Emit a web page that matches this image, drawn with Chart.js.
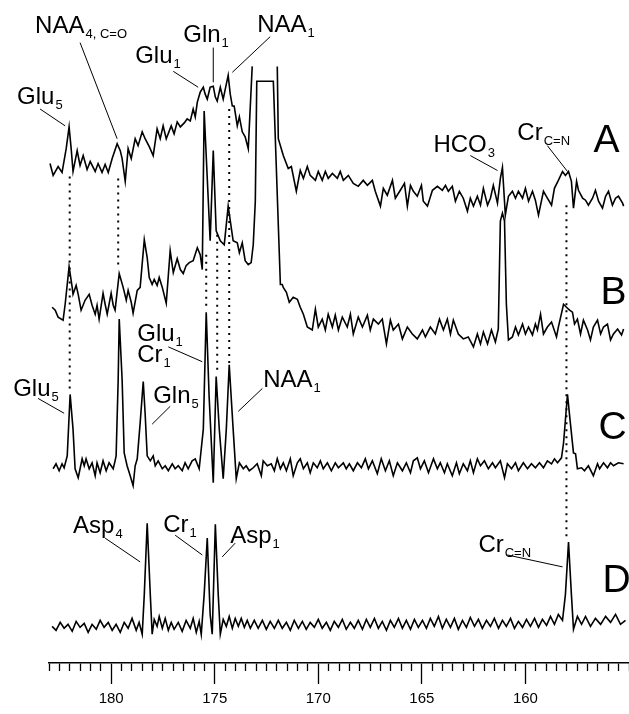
<!DOCTYPE html>
<html>
<head>
<meta charset="utf-8">
<script src="https://cdn.jsdelivr.net/npm/chart.js@4.4.1/dist/chart.umd.min.js"></script>
<style>
  html, body { margin: 0; padding: 0; background: #fff; }
  canvas { display: block; }
</style>
</head>
<body>
<canvas id="nmrChart" width="629" height="714"></canvas>
<script>
// [chemical shift (ppm), intensity above the trace baseline]
const traceA = [
  [182.95,25],[182.80,13],[182.56,22],[182.37,16],[182.17,40],[182.03,62],[181.93,40],[181.84,17],[181.64,38],[181.50,23],
  [181.35,33],[181.16,19],[181.01,27],[180.77,17],[180.63,25],[180.44,16],[180.29,24],[180.14,16],[179.95,30],[179.71,45],
  [179.56,38],[179.47,30],[179.32,7],[179.18,40],[179.03,30],[178.84,50],[178.70,43],[178.50,57],[178.36,50],[178.16,42],
  [177.97,33],[177.78,60],[177.63,50],[177.49,63],[177.34,50],[177.10,63],[176.96,55],[176.81,67],[176.66,62],[176.47,66],
  [176.33,70],[176.18,68],[176.04,80],[175.94,72],[175.84,87],[175.70,97],[175.55,102],[175.46,95],[175.36,90],[175.22,102],
  [175.07,103],[174.97,92],[174.88,88],[174.73,102],[174.59,90],[174.49,100],[174.35,114],[174.25,95],[174.15,83],[174.06,83],
  [173.91,63],[173.81,72],[173.67,57],[173.53,52],[173.38,40],[173.19,123],[172.60,null],[171.98,123],[171.93,50],[171.69,33],
  [171.45,20],[171.30,22],[171.06,-3],[170.87,18],[170.72,10],[170.53,22],[170.39,13],[170.14,8],[170.00,17],[169.81,8],
  [169.66,17],[169.52,10],[169.32,15],[169.08,10],[168.94,17],[168.79,8],[168.55,13],[168.31,5],[168.07,2],[167.83,8],
  [167.63,3],[167.39,8],[167.25,-3],[167.00,-18],[166.86,0],[166.67,-7],[166.42,8],[166.28,-10],[166.04,-2],[165.84,5],
  [165.70,-18],[165.55,3],[165.41,-3],[165.22,-8],[165.02,3],[164.93,-13],[164.73,-18],[164.49,-2],[164.25,2],[164.01,-2],
  [163.86,3],[163.72,-3],[163.53,2],[163.38,-13],[163.19,-3],[163.00,-10],[162.80,-23],[162.66,-10],[162.51,-18],[162.32,-8],
  [162.17,-17],[162.03,0],[161.83,-17],[161.69,-10],[161.55,3],[161.35,-15],[161.21,10],[161.11,21],[160.97,-27],[160.82,-8],
  [160.63,-3],[160.48,-10],[160.34,-3],[160.14,-10],[160.00,0],[159.85,-13],[159.66,-3],[159.52,-12],[159.37,-27],[159.13,-3],
  [158.94,-10],[158.74,-17],[158.60,0],[158.41,8],[158.21,17],[158.07,13],[157.92,17],[157.78,7],[157.68,-20],[157.53,7],
  [157.44,-2],[157.24,-10],[157.10,-12],[156.96,-17],[156.76,-10],[156.62,-2],[156.47,-13],[156.28,-20],[156.13,-8],[155.99,-3],
  [155.80,-17],[155.65,-10],[155.51,-8],[155.31,-15],[155.26,-18]
];

const traceB = [
  [182.85,15],[182.70,12],[182.56,5],[182.32,2],[182.22,18],[182.03,56],[181.88,35],[181.84,28],[181.69,37],[181.59,28],
  [181.45,12],[181.26,22],[181.06,28],[180.92,17],[180.77,8],[180.68,17],[180.58,3],[180.39,29],[180.29,18],[180.19,8],
  [180.00,29],[179.90,17],[179.81,12],[179.61,49],[179.42,35],[179.27,22],[179.18,32],[179.03,20],[178.94,9],[178.74,32],
  [178.60,35],[178.40,83],[178.26,65],[178.16,45],[178.02,38],[177.92,43],[177.78,37],[177.68,45],[177.53,35],[177.34,19],
  [177.15,72],[177.00,50],[176.81,64],[176.66,53],[176.52,49],[176.38,57],[176.23,60],[176.04,62],[175.84,75],[175.70,68],
  [175.60,53],[175.51,213],[175.22,82],[175.07,173],[174.93,92],[174.73,82],[174.54,78],[174.35,117],[174.20,95],[174.11,82],
  [173.91,80],[173.81,70],[173.67,80],[173.53,62],[173.38,58],[173.24,60],[173.14,78],[173.04,122],[172.97,243],[172.17,243],
  [171.83,38],[171.74,38],[171.69,35],[171.54,30],[171.40,20],[171.21,25],[171.01,23],[170.87,15],[170.72,8],[170.53,-5],
  [170.29,-8],[170.14,13],[170.00,-5],[169.81,3],[169.66,-8],[169.52,8],[169.32,-5],[169.18,7],[169.03,-8],[168.84,5],
  [168.60,-5],[168.45,8],[168.31,-12],[168.07,5],[167.87,-5],[167.63,7],[167.49,-8],[167.34,3],[167.10,-2],[166.91,3],
  [166.71,-22],[166.52,2],[166.38,-8],[166.13,-2],[165.94,-17],[165.70,-5],[165.46,-12],[165.22,-17],[164.97,-8],[164.83,-15],
  [164.59,-5],[164.35,-12],[164.15,3],[163.96,-8],[163.77,3],[163.62,-12],[163.48,2],[163.24,-12],[163.00,-17],[162.76,-15],
  [162.51,-25],[162.32,-12],[162.17,-22],[162.03,-10],[161.83,-22],[161.64,-8],[161.45,-20],[161.31,-7],[161.21,102],[161.11,110],
  [161.01,102],[160.92,18],[160.82,-18],[160.63,-15],[160.48,-5],[160.34,-13],[160.14,-2],[160.00,-12],[159.85,-5],[159.66,-13],
  [159.52,-2],[159.42,-8],[159.27,8],[159.13,-12],[158.94,-5],[158.74,0],[158.50,-15],[158.41,-5],[158.16,18],[158.02,15],
  [157.87,12],[157.73,10],[157.63,-2],[157.49,3],[157.34,-12],[157.20,2],[157.00,-8],[156.86,-18],[156.72,-5],[156.52,2],
  [156.37,-12],[156.23,-5],[156.04,-2],[155.89,-18],[155.75,-12],[155.55,-7],[155.36,-13],[155.26,-7]
];

const traceC = [
  [182.80,-3],[182.66,2],[182.51,-5],[182.37,2],[182.27,-2],[182.12,10],[181.98,72],[181.84,37],[181.74,-3],[181.59,-12],
  [181.40,7],[181.30,0],[181.21,7],[181.06,-3],[180.92,3],[180.77,-10],[180.68,3],[180.53,-7],[180.39,5],[180.24,-5],
  [180.10,3],[179.90,-3],[179.81,5],[179.76,10],[179.66,87],[179.61,148],[179.47,87],[179.37,13],[179.23,0],[179.08,-10],
  [178.94,-20],[178.84,0],[178.74,7],[178.60,43],[178.45,85],[178.36,53],[178.26,10],[178.11,5],[177.97,10],[177.87,0],
  [177.73,5],[177.53,-3],[177.39,0],[177.24,-5],[177.05,2],[176.91,-3],[176.76,0],[176.57,-5],[176.43,3],[176.28,-3],
  [176.09,5],[175.94,7],[175.75,-3],[175.55,37],[175.41,155],[175.27,70],[175.07,-17],[174.93,90],[174.78,37],[174.59,-13],
  [174.44,37],[174.30,102],[174.11,37],[173.96,-13],[173.81,3],[173.62,-3],[173.48,0],[173.33,-5],[173.14,-2],[172.95,2],
  [172.75,-10],[172.66,5],[172.46,0],[172.27,2],[172.12,-5],[171.98,7],[171.83,-3],[171.69,3],[171.54,-5],[171.35,7],
  [171.21,-10],[171.01,3],[170.87,7],[170.72,-3],[170.53,3],[170.39,-7],[170.24,3],[170.05,-2],[169.90,5],[169.76,-3],
  [169.56,3],[169.37,-5],[169.18,3],[169.03,-2],[168.79,3],[168.65,-3],[168.50,2],[168.31,-5],[168.11,3],[167.92,-2],
  [167.73,7],[167.58,-3],[167.39,5],[167.15,-8],[166.96,7],[166.76,-5],[166.57,5],[166.38,-10],[166.18,3],[165.94,-5],
  [165.75,3],[165.55,-7],[165.41,5],[165.22,8],[165.07,-3],[164.88,5],[164.68,-7],[164.44,7],[164.25,-3],[164.11,3],
  [163.91,-7],[163.77,2],[163.53,-10],[163.33,3],[163.19,-8],[163.00,2],[162.80,-5],[162.66,5],[162.51,-7],[162.32,7],
  [162.17,0],[161.98,5],[161.79,-3],[161.59,3],[161.45,-2],[161.21,5],[161.01,-12],[160.87,2],[160.67,-3],[160.48,3],
  [160.34,-5],[160.10,3],[159.90,-3],[159.71,2],[159.52,-2],[159.32,3],[159.13,-2],[158.94,5],[158.74,2],[158.60,7],
  [158.45,3],[158.26,8],[158.16,23],[157.97,72],[157.83,43],[157.68,13],[157.58,12],[157.49,-3],[157.29,-2],[157.15,-5],
  [156.96,0],[156.72,-10],[156.52,2],[156.42,-3],[156.23,3],[156.04,-2],[155.89,3],[155.75,0],[155.51,3],[155.26,2]
];

const traceD = [
  [182.85,-2],[182.66,-6],[182.46,2],[182.27,-4],[182.08,0],[181.88,-7],[181.69,3],[181.50,-3],[181.30,1],[181.11,-8],
  [180.92,0],[180.72,-5],[180.53,4],[180.34,-3],[180.14,2],[179.95,-6],[179.76,0],[179.56,-8],[179.37,2],[179.18,-4],
  [178.99,6],[178.79,-6],[178.65,2],[178.50,-10],[178.40,30],[178.26,102],[178.11,30],[178.02,-10],[177.92,5],[177.78,-2],
  [177.68,8],[177.53,-4],[177.39,6],[177.24,-6],[177.10,2],[176.96,-5],[176.76,2],[176.57,-7],[176.38,4],[176.18,-4],
  [176.04,6],[175.89,-8],[175.75,3],[175.65,-10],[175.51,30],[175.36,87],[175.22,10],[175.12,-10],[174.97,101],[174.83,30],
  [174.73,-10],[174.59,5],[174.44,-2],[174.30,8],[174.15,-4],[174.01,6],[173.86,-2],[173.72,6],[173.57,-3],[173.43,4],
  [173.28,-4],[173.09,4],[172.90,-4],[172.70,4],[172.51,-5],[172.32,3],[172.12,-4],[171.93,4],[171.74,-4],[171.54,2],
  [171.35,-6],[171.16,4],[170.96,-4],[170.77,3],[170.58,-5],[170.39,2],[170.19,-3],[170.00,5],[169.81,-4],[169.61,2],
  [169.42,-6],[169.23,3],[169.03,-3],[168.84,5],[168.65,-5],[168.45,2],[168.26,-4],[168.07,4],[167.87,-5],[167.68,5],
  [167.49,-3],[167.29,6],[167.10,-4],[166.91,3],[166.71,-6],[166.52,4],[166.33,-3],[166.13,6],[165.94,-4],[165.75,4],
  [165.55,-5],[165.36,5],[165.17,-3],[164.97,4],[164.78,-4],[164.59,6],[164.40,-2],[164.20,8],[164.01,-4],[163.82,5],
  [163.62,-3],[163.43,6],[163.24,-5],[163.04,4],[162.85,-3],[162.66,7],[162.46,-2],[162.27,5],[162.08,-4],[161.88,4],
  [161.69,-2],[161.50,6],[161.30,-4],[161.11,4],[160.92,-2],[160.72,6],[160.53,-4],[160.34,3],[160.14,-3],[159.95,5],
  [159.76,-2],[159.56,6],[159.37,-3],[159.18,5],[158.98,-1],[158.79,8],[158.60,0],[158.41,10],[158.21,4],[158.07,30],
  [157.92,83],[157.78,30],[157.68,-5],[157.49,8],[157.29,0],[157.10,8],[156.86,-2],[156.62,6],[156.37,0],[156.13,8],
  [155.89,2],[155.65,10],[155.41,0],[155.17,4]
];

const traces = [traceA, traceB, traceC, traceD];
const traceNames = ['A', 'B', 'C', 'D'];
const traceOffsets = [479, 344, 199, 39];

// dotted assignment guides: ppm, top, bottom (chart units)
const guides = [
  [182.00, 491, 272],
  [179.66, 489, 397],
  [175.41, 412, 356],
  [174.88, 432, 291],
  [174.30, 559, 302],
  [158.02, 462, 124]
];

const majorTicks = [180, 175, 170, 165, 160];

// peak labels: text, subscript, ppm, y, leader line [ppm1, y1, ppm2, y2]
const peakLabels = [
  ['Glu', '5', 184.54, 564, [183.43, 559, 182.22, 542]],
  ['NAA', '4, C=O', 183.67, 636, [181.50, 626, 179.71, 529]],
  ['Glu', '1', 178.84, 605, [177.00, 597, 175.80, 581]],
  ['Gln', '1', 176.52, 627, [175.07, 621, 175.07, 586]],
  ['NAA', '1', 172.95, 637, [172.32, 632, 174.15, 596]],
  ['HCO', '3', 164.44, 516, [162.66, 512, 161.35, 497]],
  ['Cr', 'C=N', 160.39, 528, [158.94, 522, 157.97, 496]],
  ['Glu', '5', 184.73, 269, [183.53, 267, 182.27, 252]],
  ['Glu', '1', 178.74, 325, null],
  ['Cr', '1', 178.74, 304, [177.24, 319, 175.60, 304]],
  ['Gln', '5', 177.97, 262, [177.15, 259, 178.02, 241]],
  ['NAA', '1', 172.66, 279, [172.70, 277, 173.86, 254]],
  ['Asp', '4', 181.84, 131, [180.29, 126, 178.60, 102]],
  ['Cr', '1', 177.49, 132, [176.91, 129, 175.60, 109]],
  ['Asp', '1', 174.25, 121, [174.01, 121, 174.64, 107]],
  ['Cr', 'C=N', 162.27, 112, [160.87, 109, 158.21, 97]]
];

// trace letters: ppm, y
const letterPos = [[156.71, 516], [156.37, 362], [156.47, 226], [156.28, 72]];

const datasets = [];
traces.forEach((tr, i) => {
  datasets.push({
    label: traceNames[i],
    data: tr.map(p => ({ x: p[0], y: p[1] === null ? null : p[1] + traceOffsets[i] })),
    borderColor: '#000',
    borderWidth: 1.6,
    pointRadius: 0,
    tension: 0,
    spanGaps: false
  });
});
guides.forEach(g => {
  datasets.push({
    label: 'guide',
    data: [{ x: g[0], y: g[1] }, { x: g[0], y: g[2] }],
    borderColor: '#000',
    borderWidth: 2,
    borderDash: [2, 5],
    pointRadius: 0
  });
});

const annotate = {
  id: 'annotate',
  afterDatasetsDraw(chart) {
    const ctx = chart.ctx;
    const xs = chart.scales.x, ys = chart.scales.y;
    ctx.save();
    ctx.fillStyle = '#000';
    ctx.strokeStyle = '#000';
    ctx.lineWidth = 1;
    ctx.textBaseline = 'alphabetic';
    ctx.textAlign = 'left';
    peakLabels.forEach(l => {
      const x = xs.getPixelForValue(l[2]);
      const y = ys.getPixelForValue(l[3]);
      ctx.font = '24px "Liberation Sans", Arial, sans-serif';
      ctx.fillText(l[0], x, y);
      const w = ctx.measureText(l[0]).width;
      ctx.font = '13px "Liberation Sans", Arial, sans-serif';
      ctx.fillText(l[1], x + w + 1, y + 5);
      if (l[4]) {
        ctx.beginPath();
        ctx.moveTo(xs.getPixelForValue(l[4][0]), ys.getPixelForValue(l[4][1]));
        ctx.lineTo(xs.getPixelForValue(l[4][2]), ys.getPixelForValue(l[4][3]));
        ctx.stroke();
      }
    });
    ctx.font = '39px "Liberation Sans", Arial, sans-serif';
    letterPos.forEach((p, i) => {
      ctx.fillText(traceNames[i], xs.getPixelForValue(p[0]), ys.getPixelForValue(p[1]));
    });
    ctx.restore();
  }
};

new Chart(document.getElementById('nmrChart'), {
  type: 'line',
  data: { datasets: datasets },
  plugins: [annotate],
  options: {
    responsive: false,
    animation: false,
    layout: { padding: { left: 49, right: 0, top: 0, bottom: 0 } },
    plugins: { legend: { display: false }, tooltip: { enabled: false } },
    scales: {
      x: {
        type: 'linear',
        min: 155, max: 183, reverse: true,
        weight: 0,
        ticks: { display: false, stepSize: 0.5 },
        grid: { drawOnChartArea: false, tickLength: 8, tickColor: '#000', tickWidth: 1.3 },
        border: { display: true, color: '#000', width: 1.5 }
      },
      x2: {
        type: 'linear',
        position: 'bottom',
        min: 155, max: 183, reverse: true,
        weight: 1,
        afterBuildTicks: (scale) => { scale.ticks = majorTicks.map(v => ({ value: v })); },
        ticks: { padding: 6, color: '#000', font: { size: 15, family: '"Liberation Sans", Arial, sans-serif' } },
        grid: { drawOnChartArea: false, tickLength: 13, tickColor: '#000', tickWidth: 1.3 },
        border: { display: false }
      },
      y: { display: false, min: 0, max: 669 }
    }
  }
});
</script>
</body>
</html>
